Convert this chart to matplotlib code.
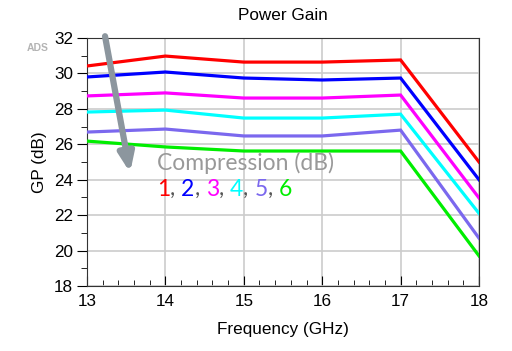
import matplotlib.pyplot as plt
from matplotlib.ticker import MultipleLocator

# datos
frecuencia = [13, 14, 15, 16, 17, 18]
gp_1 = [30.42, 30.98, 30.64, 30.64, 30.76, 25.0]
gp_2 = [29.80, 30.08, 29.74, 29.63, 29.74, 24.0]
gp_3 = [28.73, 28.90, 28.61, 28.61, 28.78, 22.97]
gp_4 = [27.82, 27.93, 27.48, 27.48, 27.70, 22.1]
gp_5 = [26.69, 26.86, 26.47, 26.47, 26.80, 20.7]
gp_6 = [26.18, 25.85, 25.62, 25.62, 25.62, 19.7]
etiquetas = ["1", "2", "3", "4", "5", "6"]
colores = ["#ff0000", "#0000ff", "#ff00ff", "#00ffff", "#7b68ee", "#00ee00"]

W, H = 512, 351
fig = plt.figure(figsize=(W / 100, H / 100), dpi=100)
ax = fig.add_axes([87 / W, 1 - 286 / H, (479 - 87) / W, (286 - 38) / H])

series = [gp_1, gp_2, gp_3, gp_4, gp_5, gp_6]
for s, c in zip(series, colores):
    ax.plot(frecuencia, s, color=c, lw=2.3, solid_joinstyle="miter", zorder=3)

ax.set_xlim(13, 18)
ax.set_ylim(18, 32)
ax.xaxis.set_major_locator(MultipleLocator(1))
ax.xaxis.set_minor_locator(MultipleLocator(0.2))
ax.yaxis.set_major_locator(MultipleLocator(2))
ax.yaxis.set_minor_locator(MultipleLocator(1))
ax.grid(True, which="major", color="#cccccc", lw=1.2, zorder=0)
ax.tick_params(axis="x", which="both", direction="in", labelsize=12.3, pad=6)
ax.tick_params(axis="x", which="major", length=7)
ax.tick_params(axis="x", which="minor", length=4)
ax.tick_params(axis="y", which="both", direction="out", labelsize=12.3, pad=3)
ax.tick_params(axis="y", which="major", length=7)
ax.tick_params(axis="y", which="minor", length=4)
for lab in ax.get_xticklabels() + ax.get_yticklabels():
    lab.set_family("Liberation Sans")
for sp in ax.spines.values():
    sp.set_color("#333333")

ax.set_xlabel("Frequency (GHz)", fontsize=12.3, family="Liberation Sans", labelpad=9)
ax.set_ylabel("GP (dB)", fontsize=12.3, family="Liberation Sans", labelpad=5)
ax.set_title("Power Gain", fontsize=12.3, family="Liberation Sans", pad=13)
fig.text(38 / W, 1 - 48 / H, "ADS", ha="center", va="center", fontsize=7.5,
         color="#b4b4b4", weight="bold", family="Liberation Sans")

# flecha y leyenda de compresion
ax.annotate("", xy=(13.55, 24.4), xytext=(13.23, 32.1),
            arrowprops=dict(arrowstyle="-|>,head_width=0.45,head_length=1.1",
                            color="#8c969e", lw=4.5, shrinkA=0, shrinkB=0),
            annotation_clip=False, zorder=4)
fig.text(157 / W, 1 - 163 / H, "Compression (dB)", ha="left", va="center",
         fontsize=16.5, color="#999999", family="Lato")

# numeros de colores encadenados uno tras otro
prev = fig.text(157 / W, 1 - 196 / H, etiquetas[0], ha="left", va="baseline",
                fontsize=16.5, color=colores[0], family="Lato")
for t, c in zip(etiquetas[1:], colores[1:]):
    coma = ax.annotate(", ", xy=(1, 0), xycoords=prev, xytext=(0, 0),
                       textcoords="offset points", ha="left", va="bottom",
                       fontsize=16.5, color="#555555", family="Lato")
    prev = ax.annotate(t, xy=(1, 0), xycoords=coma, xytext=(0, 0),
                       textcoords="offset points", ha="left", va="bottom",
                       fontsize=16.5, color=c, family="Lato")

fig.savefig("out.png", dpi=100)
